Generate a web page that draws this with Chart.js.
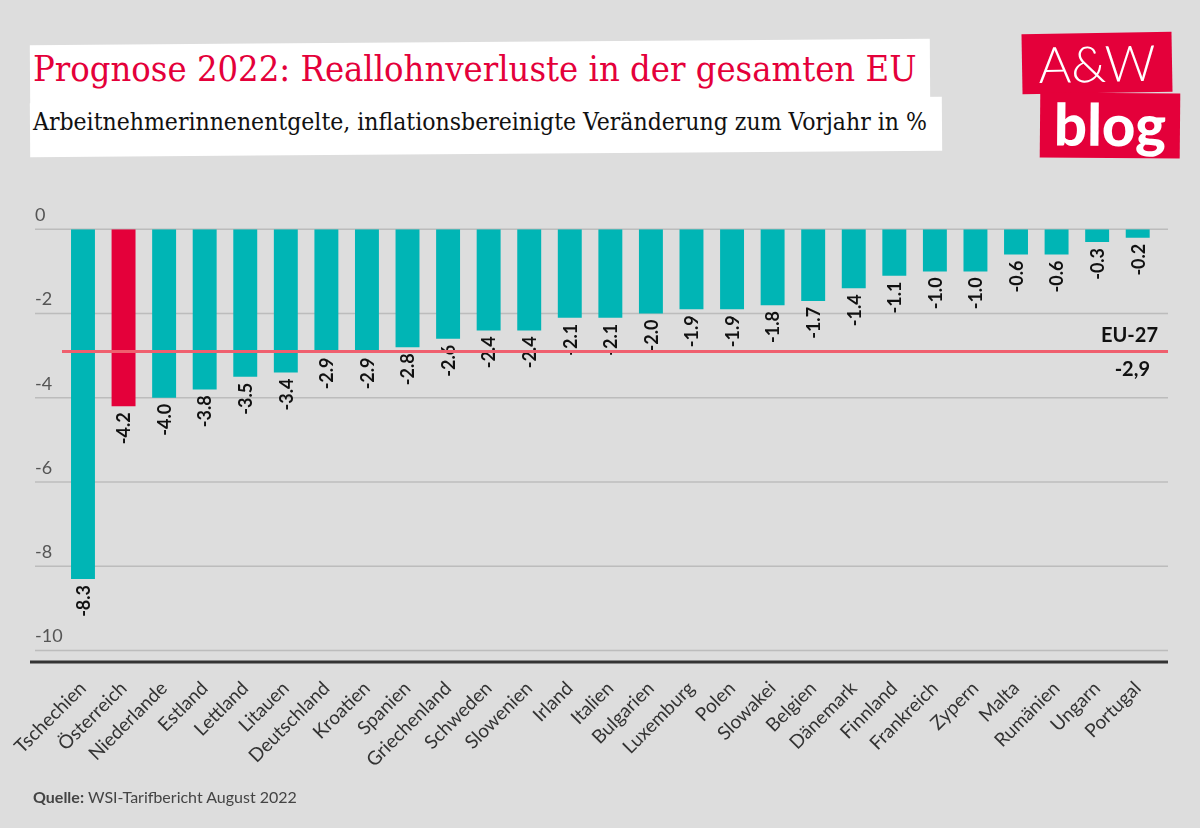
<!DOCTYPE html>
<html lang="de">
<head>
<meta charset="utf-8">
<script src="https://cdn.jsdelivr.net/npm/chart.js@4.4.1/dist/chart.umd.min.js"></script>
<style>
    html, body { margin: 0; padding: 0; }
    body { width: 1200px; height: 828px; background: #dddddd; position: relative; overflow: hidden; font-family: Lato, "Open Sans", sans-serif; }
    #wrap { position: absolute; left: 0; top: 0; width: 1200px; height: 828px; }
    .box { position: absolute; background: #fff; transform: rotate(-0.4deg); }
    #titleBox { left: 30px; top: 42px; width: 900px; height: 62px; }
    #subBox { left: 30px; top: 100px; width: 912px; height: 54px; }
    #title { position: absolute; left: 33px; top: 48px; font-family: "DejaVu Serif Condensed", "DejaVu Serif", serif; font-size: 36px; color: #e4003a; white-space: nowrap; }
    #subtitle { position: absolute; left: 33px; top: 107px; font-family: "DejaVu Serif Condensed", "DejaVu Serif", serif; font-size: 24.5px; color: #111; white-space: nowrap; }
    .logo { position: absolute; background: #e4003a; color: #fff; text-align: center; }
    #logo1 { left: 1022px; top: 33px; width: 150px; height: 60px; line-height: 60px; font-size: 50px; font-weight: 300; transform: rotate(-1deg); }
    #logo2 { left: 1040px; top: 93px; width: 140px; height: 65px; line-height: 62px; font-size: 58px; font-weight: 900; transform: rotate(0.5deg); }
    #source { position: absolute; left: 33px; top: 787px; font-size: 16px; color: #444; }
</style>
</head>
<body>
<div class="box" id="titleBox"></div>
<div class="box" id="subBox"></div>
<div id="title">Prognose 2022: Reallohnverluste in der gesamten EU</div>
<div id="subtitle">Arbeitnehmerinnenentgelte, inflationsbereinigte Veränderung zum Vorjahr in %</div>
<div class="logo" id="logo1">A&amp;W</div>
<div class="logo" id="logo2">blog</div>
<div id="wrap"><canvas id="lohnChart"></canvas></div>
<div id="source"><b>Quelle:</b> WSI-Tarifbericht August 2022</div>
<script>
const laender = ['Tschechien', 'Österreich', 'Niederlande', 'Estland', 'Lettland', 'Litauen', 'Deutschland', 'Kroatien', 'Spanien', 'Griechenland', 'Schweden', 'Slowenien', 'Irland', 'Italien', 'Bulgarien', 'Luxemburg', 'Polen', 'Slowakei', 'Belgien', 'Dänemark', 'Finnland', 'Frankreich', 'Zypern', 'Malta', 'Rumänien', 'Ungarn', 'Portugal'];
const reallohn = [-8.3, -4.2, -4.0, -3.8, -3.5, -3.4, -2.9, -2.9, -2.8, -2.6, -2.4, -2.4, -2.1, -2.1, -2.0, -1.9, -1.9, -1.8, -1.7, -1.4, -1.1, -1.0, -1.0, -0.6, -0.6, -0.3, -0.2];
const yTicks = [0, -2, -4, -6, -8, -10];
const euWert = -2.9;
const euText = ['EU-27', '-2,9'];

const teal = '#00b5b5';
const rot = '#e4003a';

// Gitterlinien, Y-Beschriftung, EU-Linie, Werte
const extras = {
    id: 'extras',
    beforeDatasetsDraw(chart) {
        const ctx = chart.ctx;
        const y = chart.scales.y;
        const area = chart.chartArea;
        ctx.save();
        ctx.strokeStyle = '#bcbcbc';
        ctx.lineWidth = 1.5;
        ctx.font = '18px Lato, sans-serif';
        ctx.fillStyle = '#555';
        ctx.textAlign = 'left';
        ctx.textBaseline = 'middle';
        yTicks.forEach(t => {
            const py = y.getPixelForValue(t);
            ctx.beginPath();
            ctx.moveTo(35, py);
            ctx.lineTo(1168, py);
            ctx.stroke();
            ctx.fillText(String(t), 35, py - 14);
        });
        ctx.strokeStyle = '#333';
        ctx.lineWidth = 3;
        ctx.beginPath();
        ctx.moveTo(30, area.bottom);
        ctx.lineTo(1168, area.bottom);
        ctx.stroke();
        ctx.restore();
    },
    afterDatasetsDraw(chart) {
        const ctx = chart.ctx;
        const meta = chart.getDatasetMeta(0);
        ctx.save();
        ctx.font = 'bold 18px Lato, sans-serif';
        ctx.fillStyle = '#111';
        ctx.textAlign = 'right';
        ctx.textBaseline = 'middle';
        meta.data.forEach((bar, i) => {
            ctx.save();
            ctx.translate(bar.x, bar.y + 6);
            ctx.rotate(-Math.PI / 2);
            ctx.fillText(reallohn[i].toFixed(1), 0, 1);
            ctx.restore();
        });
        // EU-27 Durchschnitt
        const py = chart.scales.y.getPixelForValue(euWert);
        ctx.strokeStyle = '#ef5f6e';
        ctx.lineWidth = 3;
        ctx.beginPath();
        ctx.moveTo(62, py);
        ctx.lineTo(1168, py);
        ctx.stroke();
        ctx.font = 'bold 20px Lato, sans-serif';
        ctx.fillStyle = '#111';
        ctx.textAlign = 'right';
        ctx.fillText(euText[0], 1158, py - 16);
        ctx.fillText(euText[1], 1150, py + 18);
        ctx.restore();
    }
};

const lohnCtx = document.getElementById('lohnChart').getContext('2d');
new Chart(lohnCtx, {
    type: 'bar',
    data: {
        labels: laender,
        datasets: [{
            label: 'Reallohn (%)',
            data: reallohn,
            backgroundColor: reallohn.map((v, i) => laender[i] === 'Österreich' ? rot : teal),
            borderWidth: 0,
            barPercentage: 0.59,
            categoryPercentage: 1
        }]
    },
    options: {
        responsive: true,
        maintainAspectRatio: false,
        animation: false,
        layout: {
            padding: { left: 62.7, right: 42, top: 229.3, bottom: 36 }
        },
        plugins: {
            legend: { display: false },
            tooltip: { enabled: false }
        },
        scales: {
            y: {
                display: false,
                min: -10.27,
                max: 0
            },
            x: {
                grid: { display: false },
                border: { display: false },
                ticks: {
                    color: '#333',
                    font: { family: 'Lato, sans-serif', size: 19 },
                    minRotation: 45,
                    maxRotation: 45,
                    padding: 7
                },
                afterFit(scale) {
                    scale.height = 130;
                }
            }
        }
    },
    plugins: [extras]
});
</script>
</body>
</html>
